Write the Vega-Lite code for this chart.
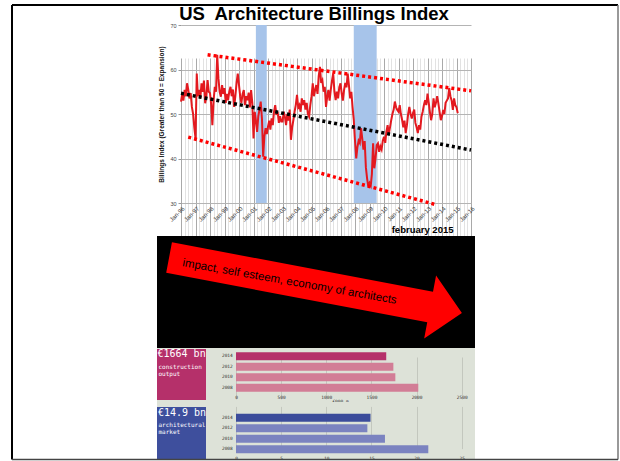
{
"$schema": "https://vega.github.io/schema/vega-lite/v6.json",
"background": "#ffffff",
"padding": {"left": 11, "top": 4, "right": 1, "bottom": 1},
"spacing": 0,
"bounds": "flush",
"config": {"view": {"stroke": null}, "font": "Liberation Sans"},
"resolve": {"scale": {"color": "independent"}},
"vconcat": [
{
 "width": 318, "height": 211,
 "title": {"text": "US\u00a0 Architecture Billings Index", "fontSize": 18.5, "fontWeight": "bold", "font": "Liberation Sans", "color": "#000000", "anchor": "middle", "offset": 0, "dx": -2},
 "layer": [
  {"data": {"values": [{"start": "2001-03-01", "end": "2001-11-30"}, {"start": "2007-12-01", "end": "2009-06-30"}]},
   "mark": {"type": "rect", "color": "#a7c4ea", "opacity": 1},
   "encoding": {
    "x": {"field": "start", "type": "temporal",
      "scale": {"domain": [{"year": 1996, "month": 1, "date": 1}, {"year": 2016, "month": 1, "date": 1}], "range": [24, 314]},
      "axis": {"tickCount": {"interval": "month", "step": 3},
        "labelExpr": "month(datum.value) == 0 ? timeFormat(datum.value, '%b-%y') : ''",
        "labelAngle": -45, "labelFontSize": 6, "labelColor": "#333333", "labelPadding": 2, "labelOverlap": false, "labelFlush": false, "labelBound": false,
        "grid": true, "gridColor": {"condition": {"test": "month(datum.value) == 0", "value": "#a9a9a9"}, "value": "#e2e2e2"}, "gridWidth": 1,
        "ticks": false, "domain": false, "offset": -33,
        "title": "february 2015", "titleFontSize": 9.5, "titleFontWeight": "bold", "titleColor": "#000000", "titleX": 296, "titleY": 29, "titleAlign": "right", "titleBaseline": "alphabetic", "titleAnchor": null}},
    "x2": {"field": "end"},
    "y": {"datum": 30, "type": "quantitative",
      "scale": {"domain": [30, 70], "range": [178, 0], "nice": false, "zero": false},
      "axis": {"values": [30, 35, 40, 45, 50, 55, 60, 65, 70], "labelOverlap": false, "grid": true, "gridColor": "#b4b4b4", "labelFontSize": 5.5, "labelColor": "#444444", "labelPadding": 2, "tickSize": 3, "tickColor": "#999999", "domain": false, "offset": -24,
        "title": "Billings Index (Greater than 50 = Expansion)", "titleFontSize": 6.5, "titleFontWeight": "bold", "titleColor": "#111111", "titleX": -19.3, "titleY": 89, "titleAngle": -90, "titleAlign": "center", "titleBaseline": "middle"}},
    "y2": {"datum": 70}
   }},
  {"data": {"values": [
{"d":"1996-01-01","v":52.8},{"d":"1996-02-01","v":54.5},{"d":"1996-03-01","v":53.0},{"d":"1996-04-01","v":55.4},{"d":"1996-05-01","v":54.0},{"d":"1996-06-01","v":56.9},{"d":"1996-07-01","v":55.5},{"d":"1996-08-01","v":53.5},{"d":"1996-09-01","v":54.7},{"d":"1996-10-01","v":51.6},{"d":"1996-11-01","v":50.0},{"d":"1996-12-01","v":47.0},
{"d":"1997-01-01","v":44.5},{"d":"1997-02-01","v":59.1},{"d":"1997-03-01","v":54.0},{"d":"1997-04-01","v":55.4},{"d":"1997-05-01","v":53.5},{"d":"1997-06-01","v":56.9},{"d":"1997-07-01","v":55.0},{"d":"1997-08-01","v":57.5},{"d":"1997-09-01","v":52.4},{"d":"1997-10-01","v":54.0},{"d":"1997-11-01","v":57.6},{"d":"1997-12-01","v":55.0},
{"d":"1998-01-01","v":54.7},{"d":"1998-02-01","v":52.0},{"d":"1998-03-01","v":47.5},{"d":"1998-04-01","v":53.0},{"d":"1998-05-01","v":56.1},{"d":"1998-06-01","v":55.0},{"d":"1998-07-01","v":63.3},{"d":"1998-08-01","v":58.0},{"d":"1998-09-01","v":55.0},{"d":"1998-10-01","v":53.9},{"d":"1998-11-01","v":56.5},{"d":"1998-12-01","v":54.5},
{"d":"1999-01-01","v":55.8},{"d":"1999-02-01","v":52.5},{"d":"1999-03-01","v":54.5},{"d":"1999-04-01","v":53.1},{"d":"1999-05-01","v":55.0},{"d":"1999-06-01","v":56.1},{"d":"1999-07-01","v":54.0},{"d":"1999-08-01","v":55.5},{"d":"1999-09-01","v":51.6},{"d":"1999-10-01","v":54.0},{"d":"1999-11-01","v":57.0},{"d":"1999-12-01","v":59.1},
{"d":"2000-01-01","v":56.5},{"d":"2000-02-01","v":53.9},{"d":"2000-03-01","v":52.5},{"d":"2000-04-01","v":54.5},{"d":"2000-05-01","v":55.4},{"d":"2000-06-01","v":52.0},{"d":"2000-07-01","v":54.0},{"d":"2000-08-01","v":53.1},{"d":"2000-09-01","v":54.8},{"d":"2000-10-01","v":51.5},{"d":"2000-11-01","v":55.4},{"d":"2000-12-01","v":52.5},
{"d":"2001-01-01","v":44.5},{"d":"2001-02-01","v":50.5},{"d":"2001-03-01","v":48.6},{"d":"2001-04-01","v":46.0},{"d":"2001-05-01","v":49.5},{"d":"2001-06-01","v":51.0},{"d":"2001-07-01","v":52.8},{"d":"2001-08-01","v":49.0},{"d":"2001-09-01","v":40.4},{"d":"2001-10-01","v":45.0},{"d":"2001-11-01","v":46.8},{"d":"2001-12-01","v":45.5},
{"d":"2002-01-01","v":47.2},{"d":"2002-02-01","v":48.5},{"d":"2002-03-01","v":46.5},{"d":"2002-04-01","v":49.0},{"d":"2002-05-01","v":47.5},{"d":"2002-06-01","v":50.5},{"d":"2002-07-01","v":52.0},{"d":"2002-08-01","v":49.8},{"d":"2002-09-01","v":50.5},{"d":"2002-10-01","v":48.0},{"d":"2002-11-01","v":49.5},{"d":"2002-12-01","v":48.3},
{"d":"2003-01-01","v":48.3},{"d":"2003-02-01","v":50.5},{"d":"2003-03-01","v":49.4},{"d":"2003-04-01","v":47.5},{"d":"2003-05-01","v":50.0},{"d":"2003-06-01","v":48.5},{"d":"2003-07-01","v":51.0},{"d":"2003-08-01","v":44.2},{"d":"2003-09-01","v":47.0},{"d":"2003-10-01","v":48.6},{"d":"2003-11-01","v":50.5},{"d":"2003-12-01","v":52.0},
{"d":"2004-01-01","v":54.3},{"d":"2004-02-01","v":51.5},{"d":"2004-03-01","v":52.0},{"d":"2004-04-01","v":50.5},{"d":"2004-05-01","v":53.5},{"d":"2004-06-01","v":52.0},{"d":"2004-07-01","v":53.1},{"d":"2004-08-01","v":51.0},{"d":"2004-09-01","v":52.5},{"d":"2004-10-01","v":50.0},{"d":"2004-11-01","v":49.4},{"d":"2004-12-01","v":52.0},
{"d":"2005-01-01","v":54.0},{"d":"2005-02-01","v":56.9},{"d":"2005-03-01","v":54.0},{"d":"2005-04-01","v":55.4},{"d":"2005-05-01","v":56.5},{"d":"2005-06-01","v":54.5},{"d":"2005-07-01","v":58.5},{"d":"2005-08-01","v":60.6},{"d":"2005-09-01","v":57.0},{"d":"2005-10-01","v":57.6},{"d":"2005-11-01","v":55.0},{"d":"2005-12-01","v":56.1},
{"d":"2006-01-01","v":51.6},{"d":"2006-02-01","v":54.0},{"d":"2006-03-01","v":55.4},{"d":"2006-04-01","v":53.0},{"d":"2006-05-01","v":55.5},{"d":"2006-06-01","v":57.5},{"d":"2006-07-01","v":59.1},{"d":"2006-08-01","v":55.0},{"d":"2006-09-01","v":53.1},{"d":"2006-10-01","v":55.0},{"d":"2006-11-01","v":53.5},{"d":"2006-12-01","v":56.0},
{"d":"2007-01-01","v":56.9},{"d":"2007-02-01","v":54.5},{"d":"2007-03-01","v":53.0},{"d":"2007-04-01","v":55.4},{"d":"2007-05-01","v":57.0},{"d":"2007-06-01","v":56.0},{"d":"2007-07-01","v":59.1},{"d":"2007-08-01","v":56.5},{"d":"2007-09-01","v":53.5},{"d":"2007-10-01","v":55.0},{"d":"2007-11-01","v":51.5},{"d":"2007-12-01","v":48.7},
{"d":"2008-01-01","v":44.0},{"d":"2008-02-01","v":40.0},{"d":"2008-03-01","v":42.5},{"d":"2008-04-01","v":44.0},{"d":"2008-05-01","v":43.5},{"d":"2008-06-01","v":46.8},{"d":"2008-07-01","v":44.5},{"d":"2008-08-01","v":42.0},{"d":"2008-09-01","v":43.9},{"d":"2008-10-01","v":38.0},{"d":"2008-11-01","v":35.5},{"d":"2008-12-01","v":33.7},
{"d":"2009-01-01","v":34.5},{"d":"2009-02-01","v":33.9},{"d":"2009-03-01","v":36.5},{"d":"2009-04-01","v":43.4},{"d":"2009-05-01","v":37.8},{"d":"2009-06-01","v":40.0},{"d":"2009-07-01","v":43.0},{"d":"2009-08-01","v":43.4},{"d":"2009-09-01","v":41.5},{"d":"2009-10-01","v":42.7},{"d":"2009-11-01","v":42.0},{"d":"2009-12-01","v":44.0},
{"d":"2010-01-01","v":44.9},{"d":"2010-02-01","v":43.5},{"d":"2010-03-01","v":46.0},{"d":"2010-04-01","v":47.5},{"d":"2010-05-01","v":45.5},{"d":"2010-06-01","v":47.0},{"d":"2010-07-01","v":48.6},{"d":"2010-08-01","v":50.0},{"d":"2010-09-01","v":51.0},{"d":"2010-10-01","v":52.8},{"d":"2010-11-01","v":51.5},{"d":"2010-12-01","v":50.9},
{"d":"2011-01-01","v":50.5},{"d":"2011-02-01","v":52.0},{"d":"2011-03-01","v":50.0},{"d":"2011-04-01","v":48.7},{"d":"2011-05-01","v":47.0},{"d":"2011-06-01","v":48.5},{"d":"2011-07-01","v":45.7},{"d":"2011-08-01","v":47.5},{"d":"2011-09-01","v":50.0},{"d":"2011-10-01","v":51.6},{"d":"2011-11-01","v":50.0},{"d":"2011-12-01","v":49.0},
{"d":"2012-01-01","v":50.2},{"d":"2012-02-01","v":51.0},{"d":"2012-03-01","v":48.0},{"d":"2012-04-01","v":47.0},{"d":"2012-05-01","v":45.7},{"d":"2012-06-01","v":47.5},{"d":"2012-07-01","v":46.5},{"d":"2012-08-01","v":49.4},{"d":"2012-09-01","v":50.5},{"d":"2012-10-01","v":52.0},{"d":"2012-11-01","v":53.1},{"d":"2012-12-01","v":52.0},
{"d":"2013-01-01","v":54.6},{"d":"2013-02-01","v":52.5},{"d":"2013-03-01","v":50.5},{"d":"2013-04-01","v":48.6},{"d":"2013-05-01","v":50.0},{"d":"2013-06-01","v":53.5},{"d":"2013-07-01","v":51.5},{"d":"2013-08-01","v":52.5},{"d":"2013-09-01","v":54.0},{"d":"2013-10-01","v":52.4},{"d":"2013-11-01","v":50.5},{"d":"2013-12-01","v":48.6},
{"d":"2014-01-01","v":49.5},{"d":"2014-02-01","v":50.9},{"d":"2014-03-01","v":50.0},{"d":"2014-04-01","v":52.5},{"d":"2014-05-01","v":53.0},{"d":"2014-06-01","v":53.5},{"d":"2014-07-01","v":55.8},{"d":"2014-08-01","v":54.0},{"d":"2014-09-01","v":53.0},{"d":"2014-10-01","v":50.9},{"d":"2014-11-01","v":53.5},{"d":"2014-12-01","v":52.0},
{"d":"2015-01-01","v":51.5},{"d":"2015-02-01","v":50.2}
   ]},
   "mark": {"type": "line", "color": "#e3191f", "strokeWidth": 2},
   "encoding": {"x": {"field": "d", "type": "temporal"}, "y": {"field": "v", "type": "quantitative"}}},
  {"data": {"values": [
     {"trend": "upper", "from": "1997-11-01", "to": "2016-01-01", "a": 63.3, "b": 55.2},
     {"trend": "lower", "from": "1996-07-01", "to": "2013-07-01", "a": 44.8, "b": 29.7},
     {"trend": "mean", "from": "1996-01-01", "to": "2016-01-01", "a": 54.65, "b": 41.9}]},
   "mark": {"type": "rule", "strokeWidth": 3.5, "strokeDash": [3, 3], "strokeCap": "butt"},
   "encoding": {"x": {"field": "from", "type": "temporal"}, "x2": {"field": "to"},
     "y": {"field": "a", "type": "quantitative"}, "y2": {"field": "b"},
     "color": {"condition": {"test": "datum.trend == 'mean'", "value": "#000000"}, "value": "#ff0000"}}}
 ]
},
{
 "width": 318, "height": 112,
 "view": {"fill": "#000000", "stroke": null},
 "data": {"values": [{"message": "impact, self esteem, economy of architects"}]},
 "layer": [
  {"mark": {"type": "point", "shape": "M-1,-0.104L0.783,-0.104L0.783,-0.215L1,0L0.783,0.215L0.783,0.104L-1,0.104Z", "filled": true, "color": "#ff0000", "opacity": 1, "size": 88804, "angle": 10.7, "strokeWidth": 0},
   "encoding": {"x": {"datum": 49.84, "type": "quantitative", "scale": {"domain": [0, 100]}, "axis": null},
     "y": {"datum": 43.97, "type": "quantitative", "scale": {"domain": [0, 100], "reverse": true}, "axis": null}}},
  {"mark": {"type": "text", "angle": 10, "fontSize": 11.5, "font": "Liberation Sans", "color": "#000000", "align": "center", "baseline": "middle"},
   "encoding": {"x": {"datum": 41.67, "type": "quantitative"}, "y": {"datum": 41.07, "type": "quantitative"}, "text": {"field": "message"}}}
 ]
},
{
 "width": 318, "height": 54,
 "view": {"fill": "#dde2d8", "stroke": null},
 "layer": [
  {"data": {"values": [{"year": "2014", "value": 1664, "latest": "yes"}, {"year": "2012", "value": 1743, "latest": "no"}, {"year": "2010", "value": 1765, "latest": "no"}, {"year": "2008", "value": 2019, "latest": "no"}]},
   "mark": {"type": "bar"},
   "encoding": {
    "y": {"field": "year", "type": "nominal", "sort": ["2014", "2012", "2010", "2008"], "scale": {"range": [3, 45], "paddingInner": 0.26, "paddingOuter": 0.13},
      "axis": {"title": null, "ticks": false, "domain": false, "labelFont": "DejaVu Sans Mono", "labelFontSize": 4.5, "labelColor": "#333333", "labelPadding": 3.7, "offset": -79}},
    "x": {"field": "value", "type": "quantitative", "scale": {"domain": [0, 2500], "range": [79, 304.7]},
      "axis": {"values": [0, 500, 1000, 1500, 2000, 2500], "format": "d", "grid": true, "gridColor": "#c3c7be", "ticks": false, "domain": false, "labelFont": "DejaVu Sans Mono", "labelFontSize": 4.5, "labelColor": "#333333", "labelPadding": 1.5, "labelFlush": false, "labelOverlap": false, "offset": -9,
        "title": "€000 m", "titleFont": "DejaVu Sans Mono", "titleFontSize": 4.5, "titleFontWeight": "normal", "titleColor": "#333333", "titlePadding": -0.5, "titleX": 183, "titleAnchor": null}},
    "color": {"condition": {"test": "datum.latest == 'yes'", "value": "#b5306a"}, "value": "#d27d96"}
   }},
  {"data": {"values": [{"headline": "€1664 bn", "caption": "construction\noutput"}]},
   "layer": [
    {"mark": {"type": "rect", "color": "#b5306a"},
     "encoding": {"x": {"datum": 0, "type": "quantitative", "scale": {"domain": [0, 100], "range": [0, 49]}, "axis": null}, "x2": {"datum": 100},
       "y": {"datum": 0, "type": "quantitative", "scale": {"domain": [0, 100], "range": [1, 52]}, "axis": null}, "y2": {"datum": 100}}},
    {"mark": {"type": "text", "font": "DejaVu Sans Mono", "fontSize": 10, "color": "#ffffff", "align": "left", "baseline": "middle"},
     "encoding": {"x": {"datum": 1, "type": "quantitative"}, "y": {"datum": 9, "type": "quantitative"}, "text": {"field": "headline"}}},
    {"mark": {"type": "text", "font": "DejaVu Sans Mono", "fontSize": 6, "color": "#ffffff", "align": "left", "baseline": "middle", "lineBreak": "\n", "lineHeight": 7},
     "encoding": {"x": {"datum": 3, "type": "quantitative"}, "y": {"datum": 35.3, "type": "quantitative"}, "text": {"field": "caption"}}}
   ]}
 ],
 "resolve": {"scale": {"x": "independent", "y": "independent"}}
},
{
 "width": 318, "height": 57,
 "view": {"fill": "#dde2d8", "stroke": null},
 "layer": [
  {"data": {"values": [{"year": "2014", "value": 14.9, "latest": "yes"}, {"year": "2012", "value": 14.55, "latest": "no"}, {"year": "2010", "value": 16.5, "latest": "no"}, {"year": "2008", "value": 21.3, "latest": "no"}]},
   "mark": {"type": "bar"},
   "encoding": {
    "y": {"field": "year", "type": "nominal", "sort": ["2014", "2012", "2010", "2008"], "scale": {"range": [10.4, 52.6], "paddingInner": 0.24, "paddingOuter": 0.12},
      "axis": {"title": null, "ticks": false, "domain": false, "labelFont": "DejaVu Sans Mono", "labelFontSize": 4.5, "labelColor": "#333333", "labelPadding": 3.7, "offset": -79}},
    "x": {"field": "value", "type": "quantitative", "scale": {"domain": [0, 25], "range": [79, 304.7]},
      "axis": {"values": [0, 5, 10, 15, 20, 25], "format": "d", "grid": true, "gridColor": "#c3c7be", "ticks": false, "domain": false, "labelFont": "DejaVu Sans Mono", "labelFontSize": 4.5, "labelColor": "#333333", "labelPadding": 0.5, "labelFlush": false, "labelOverlap": false, "offset": -4.4, "title": null}},
    "color": {"condition": {"test": "datum.latest == 'yes'", "value": "#3b4c9b"}, "value": "#7b83c0"}
   }},
  {"data": {"values": [{"headline": "€14.9 bn", "caption": "architectural\nmarket"}]},
   "layer": [
    {"mark": {"type": "rect", "color": "#3e4f9d"},
     "encoding": {"x": {"datum": 0, "type": "quantitative", "scale": {"domain": [0, 100], "range": [0, 49]}, "axis": null}, "x2": {"datum": 100},
       "y": {"datum": 0, "type": "quantitative", "scale": {"domain": [0, 100], "range": [5, 57]}, "axis": null}, "y2": {"datum": 100}}},
    {"mark": {"type": "text", "font": "DejaVu Sans Mono", "fontSize": 10, "color": "#ffffff", "align": "left", "baseline": "middle"},
     "encoding": {"x": {"datum": 2, "type": "quantitative"}, "y": {"datum": 11, "type": "quantitative"}, "text": {"field": "headline"}}},
    {"mark": {"type": "text", "font": "DejaVu Sans Mono", "fontSize": 6, "color": "#ffffff", "align": "left", "baseline": "middle", "lineBreak": "\n", "lineHeight": 7},
     "encoding": {"x": {"datum": 3, "type": "quantitative"}, "y": {"datum": 34.6, "type": "quantitative"}, "text": {"field": "caption"}}}
   ]},
  {"data": {"values": [{}]},
   "layer": [
    {"mark": {"type": "rule", "color": "#000000", "strokeWidth": 2},
     "encoding": {"x": {"datum": 0, "type": "quantitative", "scale": {"domain": [0, 1], "range": [-145, 461]}, "axis": null}, "x2": {"datum": 1},
       "y": {"datum": 0, "type": "quantitative", "scale": {"domain": [0, 1], "range": [-397, 57.5]}, "axis": null}}},
    {"mark": {"type": "rule", "color": "#000000", "strokeWidth": 2},
     "encoding": {"x": {"datum": 0, "type": "quantitative"}, "y": {"datum": 0, "type": "quantitative"}, "y2": {"datum": 1}}},
    {"mark": {"type": "rule", "color": "#777777", "strokeWidth": 1.5},
     "encoding": {"x": {"datum": 1, "type": "quantitative"}, "y": {"datum": 0, "type": "quantitative"}, "y2": {"datum": 1}}},
    {"mark": {"type": "rule", "color": "#444444", "strokeWidth": 1.5},
     "encoding": {"x": {"datum": 0, "type": "quantitative"}, "x2": {"datum": 1}, "y": {"datum": 1, "type": "quantitative"}}}
   ]}
 ],
 "resolve": {"scale": {"x": "independent", "y": "independent"}}
}
]
}
